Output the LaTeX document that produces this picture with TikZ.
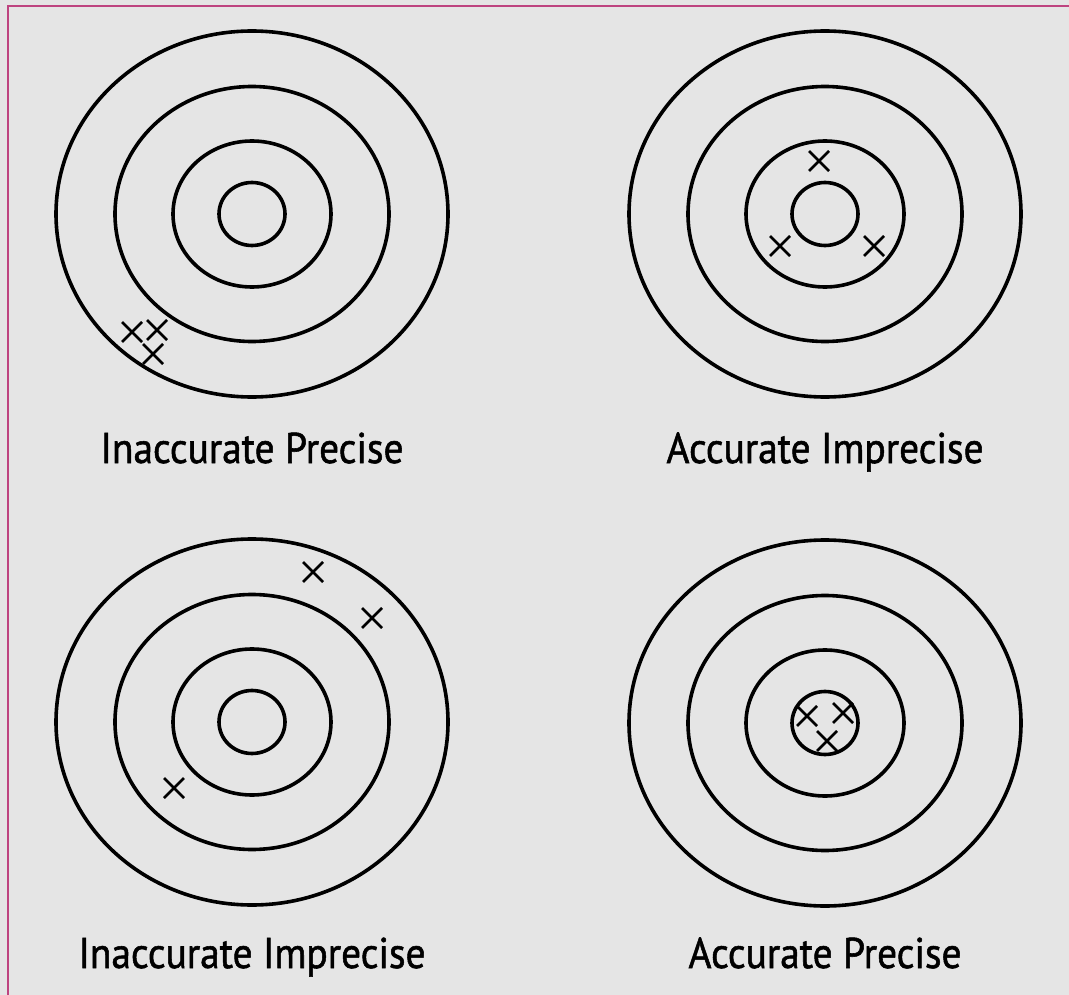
\documentclass[tikz,border=0pt]{standalone}
\usepackage{fontspec}
\setmainfont{PT Sans}
\newfontfamily\capfont{PT Sans}[FakeBold=1.3]
\definecolor{bgcol}{HTML}{E5E5E5}
\definecolor{framecol}{HTML}{BE4480}
\tikzset{
  ring/.style={line width=3.6pt, draw=black},
  crossline/.style={line width=2.8pt, draw=black},
  cross/.pic={\draw[crossline] (-10,-10)--(10,10) (-10,10)--(10,-10);},
  caption/.style={font=\capfont\fontsize{43}{50}\selectfont, text=black, inner sep=0pt, anchor=base},
}
\newcommand{\targetat}[1]{%
  \draw[ring] (#1) ellipse [x radius=196, y radius=183];
  \draw[ring] (#1) ellipse [x radius=137, y radius=127.5];
  \draw[ring] (#1) ellipse [x radius=79, y radius=73];
  \draw[ring] (#1) ellipse [x radius=33, y radius=31.5];
}
\newcommand{\squeeze}[1]{\scalebox{0.915}[1]{#1}}
\begin{document}
\begin{tikzpicture}[x=1pt,y=-1pt]
\fill[bgcol] (0,0) rectangle (1069,995);
\useasboundingbox (0,0) rectangle (1069,995);
\draw[framecol, line width=2.4pt] (8,995) -- (8,6) -- (1069,6);

\coordinate (tl) at (252,214);
\coordinate (tr) at (825,214);
\coordinate (bl) at (252,722);
\coordinate (br) at (825,723);
\targetat{tl}
\targetat{tr}
\targetat{bl}
\targetat{br}

% top-left crosses
\pic at (132,332) {cross};
\pic at (157,330) {cross};
\pic at (153,354) {cross};
% top-right crosses
\pic at (819,161) {cross};
\pic at (780,246) {cross};
\pic at (874,246) {cross};
% bottom-left crosses
\pic at (313,572) {cross};
\pic at (372,618) {cross};
\pic at (174,788) {cross};
% bottom-right crosses
\pic at (807,716) {cross};
\pic at (843,713) {cross};
\pic at (827,741) {cross};

\node[caption] (lab1) at (252,463) {\squeeze{Inaccurate Precise}};
\node[caption] (lab2) at (825,463) {\squeeze{Accurate Imprecise}};
\node[caption] (lab3) at (252,968) {\squeeze{Inaccurate Imprecise}};
\node[caption] (lab4) at (825,968) {\squeeze{Accurate Precise}};
\end{tikzpicture}
\end{document}
